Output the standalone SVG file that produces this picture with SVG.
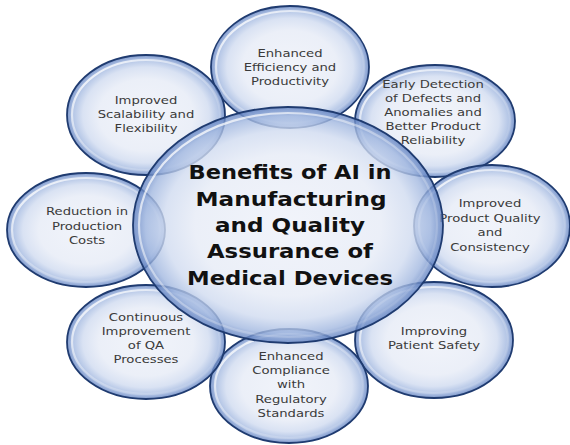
<svg xmlns="http://www.w3.org/2000/svg" width="570" height="445" viewBox="0 0 570 445">
  <defs>
    <radialGradient id="bub" cx="50%" cy="50%" r="50%">
      <stop offset="0" stop-color="#eef1f9"/>
      <stop offset="0.6" stop-color="#e6ebf6"/>
      <stop offset="0.8" stop-color="#d0dbf0"/>
      <stop offset="0.92" stop-color="#a2b8e0"/>
      <stop offset="1" stop-color="#5f80c0"/>
    </radialGradient>
    <linearGradient id="hl" x1="0" y1="0" x2="1" y2="1">
      <stop offset="0" stop-color="#ffffff" stop-opacity="0.95"/>
      <stop offset="0.45" stop-color="#ffffff" stop-opacity="0.35"/>
      <stop offset="1" stop-color="#ffffff" stop-opacity="0"/>
    </linearGradient>
  </defs>
  <style>
    .b { fill: url(#bub); fill-opacity: 0.8; stroke: #1f3b70; stroke-width: 1.8; }
    .h { fill: none; stroke: url(#hl); stroke-width: 2.2; }
    .t { font-family: "DejaVu Sans", "Liberation Sans", sans-serif; font-size: 11px; fill: #3a3a3a; text-anchor: middle; }
    .c { font-family: "DejaVu Sans", "Liberation Sans", sans-serif; font-size: 20px; font-weight: bold; fill: #111111; text-anchor: middle; }
  </style>
  <rect width="570" height="445" fill="#ffffff"/>
  <g id="connectors"/>

  <g id="node-efficiency">
    <ellipse class="b" cx="290" cy="67" rx="79" ry="61"/>
    <ellipse class="h" cx="290" cy="67" rx="74" ry="56"/>
    <g transform="translate(290,0) scale(1.2,1)">
      <text class="t" x="0" y="57">Enhanced</text>
      <text class="t" x="0" y="71">Efficiency and</text>
      <text class="t" x="0" y="85">Productivity</text>
    </g>
  </g>

  <g id="node-early-detection">
    <ellipse class="b" cx="435" cy="121" rx="80" ry="56"/>
    <ellipse class="h" cx="435" cy="121" rx="75" ry="51"/>
    <g transform="translate(433,0) scale(1.2,1)">
      <text class="t" x="0" y="88">Early Detection</text>
      <text class="t" x="0" y="102">of Defects and</text>
      <text class="t" x="0" y="116">Anomalies and</text>
      <text class="t" x="0" y="130">Better Product</text>
      <text class="t" x="0" y="144">Reliability</text>
    </g>
  </g>

  <g id="node-product-quality">
    <ellipse class="b" cx="492" cy="226" rx="78" ry="61"/>
    <ellipse class="h" cx="492" cy="226" rx="73" ry="56"/>
    <g transform="translate(490,0) scale(1.2,1)">
      <text class="t" x="0" y="207">Improved</text>
      <text class="t" x="0" y="222">Product Quality</text>
      <text class="t" x="0" y="236">and</text>
      <text class="t" x="0" y="251">Consistency</text>
    </g>
  </g>

  <g id="node-patient-safety">
    <ellipse class="b" cx="434" cy="340" rx="79" ry="58"/>
    <ellipse class="h" cx="434" cy="340" rx="74" ry="53"/>
    <g transform="translate(434,0) scale(1.2,1)">
      <text class="t" x="0" y="335">Improving</text>
      <text class="t" x="0" y="349">Patient Safety</text>
    </g>
  </g>

  <g id="node-compliance">
    <ellipse class="b" cx="289" cy="386" rx="79" ry="57"/>
    <ellipse class="h" cx="289" cy="386" rx="74" ry="52"/>
    <g transform="translate(291,0) scale(1.2,1)">
      <text class="t" x="0" y="360">Enhanced</text>
      <text class="t" x="0" y="374">Compliance</text>
      <text class="t" x="0" y="388">with</text>
      <text class="t" x="0" y="403">Regulatory</text>
      <text class="t" x="0" y="417">Standards</text>
    </g>
  </g>

  <g id="node-continuous-improvement">
    <ellipse class="b" cx="146" cy="342" rx="79" ry="57"/>
    <ellipse class="h" cx="146" cy="342" rx="74" ry="52"/>
    <g transform="translate(146,0) scale(1.2,1)">
      <text class="t" x="0" y="321">Continuous</text>
      <text class="t" x="0" y="335">Improvement</text>
      <text class="t" x="0" y="349">of QA</text>
      <text class="t" x="0" y="363">Processes</text>
    </g>
  </g>

  <g id="node-cost-reduction">
    <ellipse class="b" cx="86" cy="230" rx="79" ry="57"/>
    <ellipse class="h" cx="86" cy="230" rx="74" ry="52"/>
    <g transform="translate(87,0) scale(1.2,1)">
      <text class="t" x="0" y="215">Reduction in</text>
      <text class="t" x="0" y="230">Production</text>
      <text class="t" x="0" y="244">Costs</text>
    </g>
  </g>

  <g id="node-scalability">
    <ellipse class="b" cx="146" cy="115" rx="79" ry="60"/>
    <ellipse class="h" cx="146" cy="115" rx="74" ry="55"/>
    <g transform="translate(146,0) scale(1.2,1)">
      <text class="t" x="0" y="104">Improved</text>
      <text class="t" x="0" y="118">Scalability and</text>
      <text class="t" x="0" y="132">Flexibility</text>
    </g>
  </g>

  <g id="node-center">
    <ellipse class="b" cx="288" cy="225" rx="155" ry="118"/>
    <ellipse class="h" cx="288" cy="225" rx="149" ry="112"/>
    <text class="c" x="290" y="179" textLength="203" lengthAdjust="spacingAndGlyphs">Benefits of AI in</text>
    <text class="c" x="291" y="206" textLength="191" lengthAdjust="spacingAndGlyphs">Manufacturing</text>
    <text class="c" x="290" y="232" textLength="150" lengthAdjust="spacingAndGlyphs">and Quality</text>
    <text class="c" x="290" y="258" textLength="166" lengthAdjust="spacingAndGlyphs">Assurance of</text>
    <text class="c" x="290" y="285" textLength="206" lengthAdjust="spacingAndGlyphs">Medical Devices</text>
  </g>
</svg>
